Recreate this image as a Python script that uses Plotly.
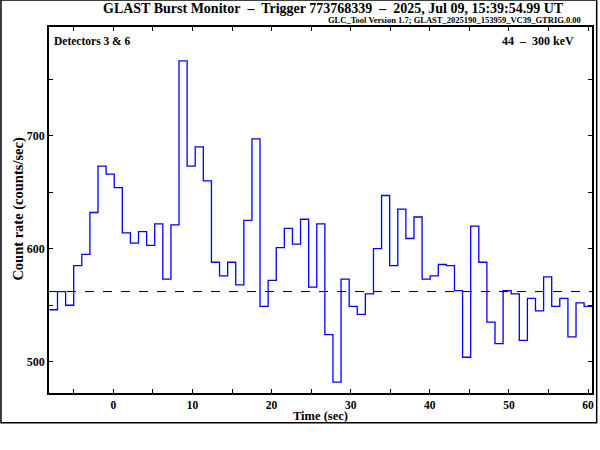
import plotly.graph_objects as go

# ---- data ----
bin_start = -8.08      # first bin edge (s)
bin_width = 1.024      # s
rates = [546, 562, 550, 585, 595, 632, 673, 666, 654, 614, 605, 615, 603, 622, 573, 621,
         766, 673, 690, 660, 588, 576, 588, 568, 625, 697, 549, 572, 601, 618, 604, 626,
         566, 622, 524, 482, 573, 549, 542, 560, 600, 647, 585, 635, 609, 628, 573, 576,
         586, 585, 563, 504, 620, 588, 535, 516, 563, 560, 519, 556, 545, 575, 549, 556,
         522, 552, 549]
background = 562.1
x_ticks = [0, 10, 20, 30, 40, 50, 60]
y_ticks = [500, 600, 700]

title_text = "GLAST Burst Monitor\u00a0 \u2013\u00a0 Trigger 773768339\u00a0 \u2013\u00a0 2025, Jul 09, 15:39:54.99 UT"
sub_text = "GLC_Tool Version 1.7; GLAST_2025190_153959_VC39_GTRIG.0.00"
det_text = "Detectors 3 & 6"
energy_text = "44\u00a0 \u2013\u00a0 300 keV"
xlabel = "Time (sec)"
ylabel = "Count rate (counts/sec)"

edges = [bin_start + i * bin_width for i in range(len(rates) + 1)]
ys = rates + [rates[-1]]

FONT = "Liberation Serif"

fig = go.Figure()
fig.add_trace(go.Scatter(x=edges, y=ys, mode="lines", line=dict(shape="hv", color="#0000FF", width=1.3),
                         hoverinfo="skip", showlegend=False))
fig.add_trace(go.Scatter(x=[-8.13, 60.5], y=[background, background], mode="lines",
                         line=dict(color="black", width=1, dash="dash"), hoverinfo="skip", showlegend=False))

L, R, T, B = 49, 6, 27, 57
W, H = 600, 450
pw, ph = W - L - R, H - T - B
def px(x): return (x - L) / pw
def py(y): return (H - B - y) / ph

fig.update_layout(
    width=W, height=H,
    margin=dict(l=L, r=R, t=T, b=B),
    paper_bgcolor="white", plot_bgcolor="white",
    font=dict(family=FONT, size=11, color="black", weight="bold"),
    xaxis=dict(range=[-8.13, 60.5], tickvals=x_ticks, ticks="inside", ticklen=4, tickwidth=1,
               tickcolor="black", showline=True, linecolor="black", linewidth=1.5, mirror="ticks",
               showgrid=False, zeroline=False, ticklabelstandoff=0,
               minor=dict(dtick=5, tick0=0, ticks="inside", ticklen=4, tickcolor="black", showgrid=False),
               tickfont=dict(family=FONT, size=11.5, weight="bold")),
    yaxis=dict(range=[472.4, 796], tickvals=y_ticks, ticks="inside", ticklen=4, tickwidth=1,
               tickcolor="black", showline=True, linecolor="black", linewidth=1.5, mirror="ticks",
               showgrid=False, zeroline=False,
               minor=dict(dtick=50, tick0=0, ticks="inside", ticklen=4, tickcolor="black", showgrid=False),
               tickfont=dict(family=FONT, size=12, weight="bold")),
)

ann = [
    dict(text=title_text, x=px(335), y=py(8), xanchor="center", yanchor="middle",
         font=dict(family=FONT, size=14, weight="bold")),
    dict(text=sub_text, x=px(585), y=py(20.5), xanchor="right", yanchor="middle",
         font=dict(family=FONT, size=8.5, weight="bold", color="black")),
    dict(text=det_text, x=px(52), y=py(41), xanchor="left", yanchor="middle",
         font=dict(family=FONT, size=11.5, weight="bold")),
    dict(text=energy_text, x=px(578), y=py(41), xanchor="right", yanchor="middle",
         font=dict(family=FONT, size=12, weight="bold")),
    dict(text=xlabel, x=px(321), y=py(416), xanchor="center", yanchor="middle",
         font=dict(family=FONT, size=12.5, weight="bold")),
    dict(text=ylabel, x=px(17.5), y=py(209), xanchor="center", yanchor="middle", textangle=-90,
         font=dict(family=FONT, size=14.5, weight="bold")),
]
for a in ann:
    a.update(xref="paper", yref="paper", showarrow=False)
fig.update_layout(annotations=ann)

fig.add_shape(type="rect", xref="paper", yref="paper", x0=px(0.8), x1=px(598.7), y0=py(422.7), y1=py(0),
              line=dict(color="black", width=1.5), fillcolor="rgba(0,0,0,0)", layer="above")

fig.write_html("out.html", config={"displayModeBar": False},
               post_script="document.body.style.margin='0px';document.body.style.padding='0px';")
